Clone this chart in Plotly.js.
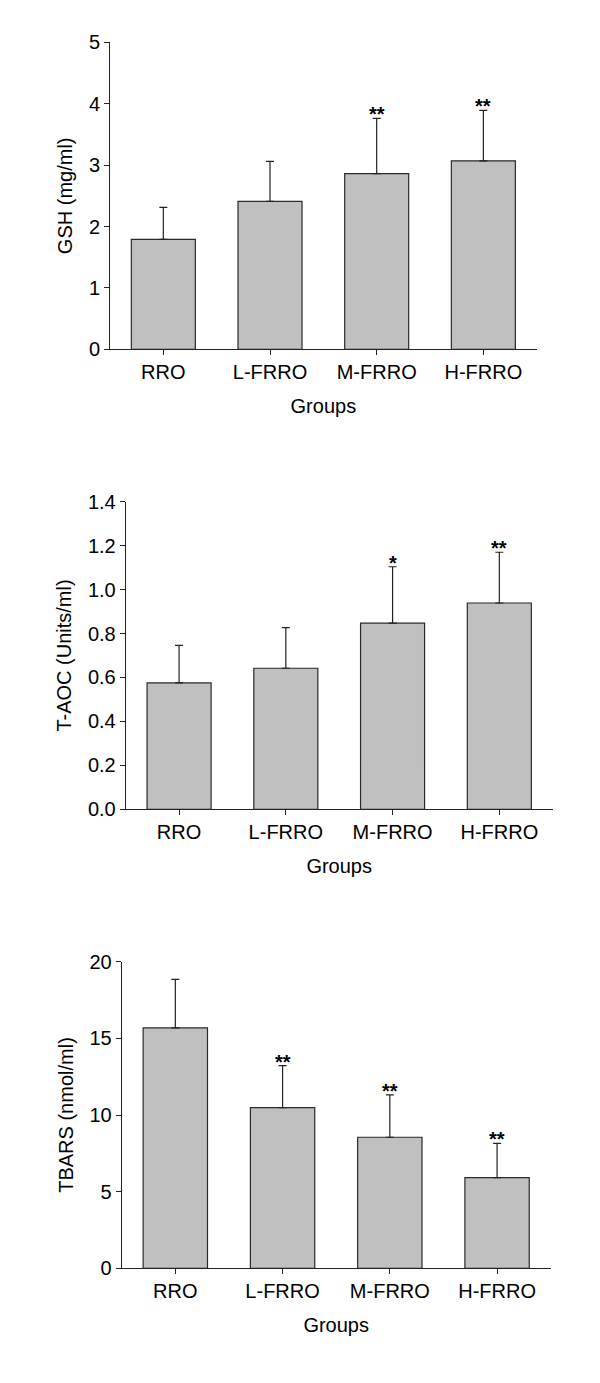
<!DOCTYPE html>
<html>
<head>
<meta charset="utf-8">
<script src="https://cdn.plot.ly/plotly-3.0.1.min.js"></script>
<style>html,body{margin:0;padding:0;background:#fff;}#chart{width:600px;height:1383px;}</style>
</head>
<body>
<div id="chart"></div>
<script>
const groups = ['RRO', 'L-FRRO', 'M-FRRO', 'H-FRRO'];

const gshMean = [1.79, 2.41, 2.86, 3.07];
const gshErr  = [0.52, 0.65, 0.90, 0.82];
const gshStars = ['', '', '**', '**'];

const taocMean = [0.575, 0.642, 0.847, 0.939];
const taocErr  = [0.171, 0.185, 0.257, 0.231];
const taocStars = ['', '', '*', '**'];

const tbarsMean = [15.68, 10.48, 8.55, 5.91];
const tbarsErr  = [3.17, 2.74, 2.76, 2.24];
const tbarsStars = ['', '**', '**', '**'];

const yTitles = ['GSH (mg/ml)', 'T-AOC (Units/ml)', 'TBARS (nmol/ml)'];
const xTitle = 'Groups';

const FONT = 'Arial, "Liberation Sans", sans-serif';
const AX = '#222';
const FS = 20;

const panels = [
  {mean: gshMean, err: gshErr, stars: gshStars, yr: [0, 5], dtick: 1, fmt: 'd', xd: [110/600, 536.7/600], yd: [1-349.3/1383, 1-42.3/1383]},
  {mean: taocMean, err: taocErr, stars: taocStars, yr: [0, 1.4], dtick: 0.2, fmt: '.1f', xd: [125.7/600, 552.7/600], yd: [1-809.3/1383, 1-501.7/1383]},
  {mean: tbarsMean, err: tbarsErr, stars: tbarsStars, yr: [0, 20], dtick: 5, fmt: 'd', xd: [121.7/600, 550.7/600], yd: [1-1268.3/1383, 1-961.7/1383]}
];

const data = [];
const annotations = [];
const layout = {
  width: 600, height: 1383,
  margin: {l: 0, r: 0, t: 0, b: 0},
  paper_bgcolor: '#fff', plot_bgcolor: '#fff',
  showlegend: false,
  font: {family: FONT, size: FS, color: '#000'},
  annotations: annotations
};

panels.forEach((p, i) => {
  const sfx = i === 0 ? '' : String(i + 1);
  data.push({
    type: 'bar',
    x: groups,
    y: p.mean,
    xaxis: 'x' + sfx,
    yaxis: 'y' + sfx,
    width: 0.6,
    marker: {color: '#c0c0c0', line: {color: '#2a2a2a', width: 1.2}},
    error_y: {type: 'data', array: p.err, symmetric: false, arrayminus: p.err.map(() => 0), color: '#222', thickness: 1.2, width: 4},
    hoverinfo: 'skip'
  });
  groups.forEach((g, k) => {
    if (p.stars[k]) {
      annotations.push({
        xref: 'x' + sfx, yref: 'y' + sfx,
        x: g, y: p.mean[k] + p.err[k],
        text: '<b>' + p.stars[k] + '</b>',
        showarrow: false,
        yanchor: 'bottom',
        yshift: -9,
        font: {family: FONT, size: 20, color: '#000'}
      });
    }
  });
  layout['xaxis' + sfx] = {
    domain: p.xd,
    anchor: 'y' + sfx,
    type: 'category',
    range: [-0.5, 3.5],
    showline: true, linecolor: AX, linewidth: 1,
    ticks: 'outside', ticklen: 5, tickcolor: AX, tickwidth: 1,
    showgrid: false, zeroline: false,
    tickfont: {family: FONT, size: FS, color: '#000'},
    title: {text: xTitle, standoff: 16, font: {family: FONT, size: FS, color: '#000'}},
    fixedrange: true
  };
  layout['yaxis' + sfx] = {
    domain: p.yd,
    anchor: 'x' + sfx,
    range: p.yr,
    dtick: p.dtick,
    tickformat: p.fmt,
    showline: true, linecolor: AX, linewidth: 1,
    ticks: 'outside', ticklen: 5, tickcolor: AX, tickwidth: 1,
    showgrid: false, zeroline: false,
    tickfont: {family: FONT, size: FS, color: '#000'},
    title: {text: yTitles[i], standoff: 10, font: {family: FONT, size: FS, color: '#000'}},
    fixedrange: true
  };
});

Plotly.newPlot('chart', data, layout, {displayModeBar: false, staticPlot: true});
</script>
</body>
</html>
